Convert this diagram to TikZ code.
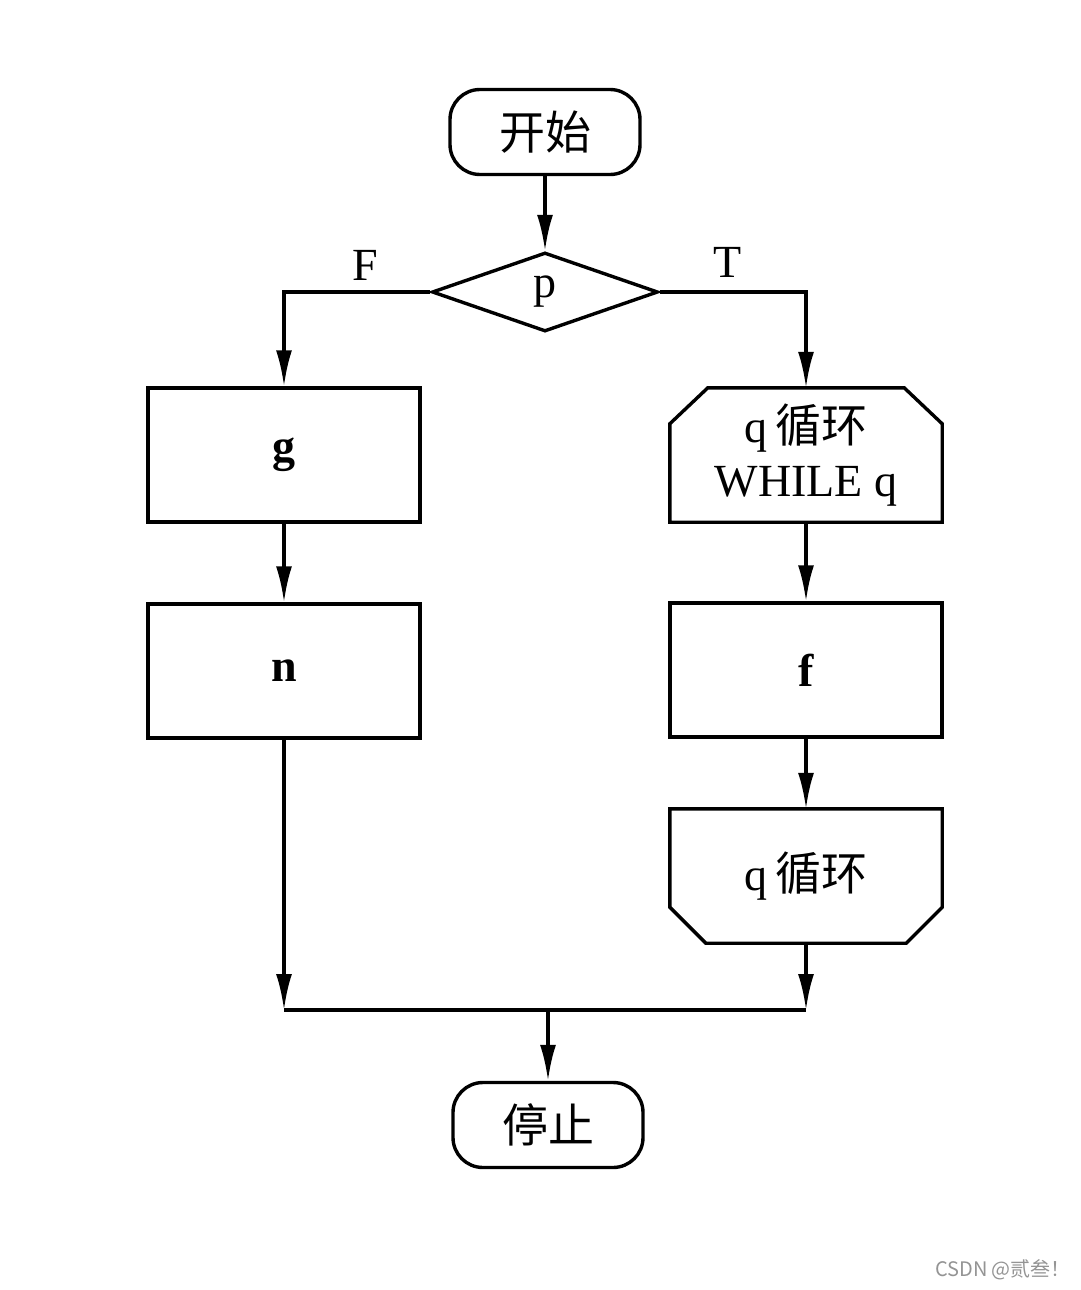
\documentclass[tikz,border=0pt]{standalone}
\usepackage{fontspec}
\setmainfont{Liberation Serif}
\newfontfamily\cjk{Noto Sans CJK SC}
\usetikzlibrary{arrows.meta}
\usetikzlibrary{calc}
\usetikzlibrary{positioning}
\usetikzlibrary{shapes.geometric}

\begin{document}
\begin{tikzpicture}[
  x=1pt, y=-1pt,
	terminal/.style={
	draw,
	rectangle,
	rounded corners=30pt,
	line width=3.4pt,
	minimum width=190pt,
	minimum height=85pt,
	font=\fontsize{46}{58}\selectfont\cjk},
	block1/.style={
	draw,
	rectangle,
	line width=3.4pt,
	minimum width=272pt,
	minimum height=134pt,
	font=\fontsize{46}{58}\selectfont\bfseries},
	loopbox/.style={
	rectangle,
	minimum width=272pt,
	minimum height=134pt,
	align=center,
	font=\fontsize{46}{58}\selectfont},
	test/.style={
	draw,
	diamond,
	line width=3.4pt,
	inner sep=0pt,
	minimum width=226pt,
	minimum height=79pt,
	font=\fontsize{46}{58}\selectfont},
	label1/.style={
	font=\fontsize{46}{58}\selectfont},
  arrow1/.style={
  line width=3.4pt,
  -{Latex[length=36pt, width=16pt]}
  },
  line1/.style={
  line width=3.4pt,
  line join=miter
  }]

	\useasboundingbox (0,0) rectangle (1080,1290);

	% Start and test
	\node [terminal] at (545,132)   (start) {开始};
	\node [test] at (545,292)       (p) {p};
	\node [label1] at (365,265)     (labF) {F};
	\node [label1] at (728,262)     (labT) {T};

	% False branch
	\node [block1] at (284,455)     (g) {g};
	\node [block1] at (284,671)     (n) {n};

	% True branch
	\node [loopbox] at (806,455)    (whileq) {q\,{\cjk 循环}\\[-4pt]WHILE q};
	\node [block1] at (806,670)     (f) {f};
	\node [loopbox] at (806,876)    (endq) {q\,{\cjk 循环}};

	% Loop outlines (cut corners)
	\draw[line1] (whileq.south west) -- (whileq.south east) -- ($(whileq.north east)+(0,36)$)
	  -- ($(whileq.north east)+(-38,0)$) -- ($(whileq.north west)+(38,0)$)
	  -- ($(whileq.north west)+(0,36)$) -- cycle;
	\draw[line1] (endq.north west) -- (endq.north east) -- ($(endq.south east)+(0,-36)$)
	  -- ($(endq.south east)+(-36,0)$) -- ($(endq.south west)+(36,0)$)
	  -- ($(endq.south west)+(0,-36)$) -- cycle;

	% Stop
	\coordinate (join) at (548,1010);
	\node [terminal] at (548,1125)  (stop) {停止};

	% Watermark
	\node [text=black!42, font=\fontsize{20}{24}\selectfont\cjk] at (1003,1270) (mark) {CSDN @贰叁！};

	% Connectors
	\draw[arrow1] (start) -- (p);
	\draw[arrow1] (p.west) -| (g.north);
	\draw[arrow1] (p.east) -| (whileq.north);
	\draw[arrow1] (g) -- (n);
	\draw[arrow1] (whileq) -- (f);
	\draw[arrow1] (f) -- (endq);
	\draw[arrow1] (n) -- (n |- join);
	\draw[arrow1] (endq) -- (endq |- join);
	\draw[line1] (n |- join) -- (endq |- join);
	\draw[arrow1] (join) -- (stop);

\end{tikzpicture}
\end{document}
